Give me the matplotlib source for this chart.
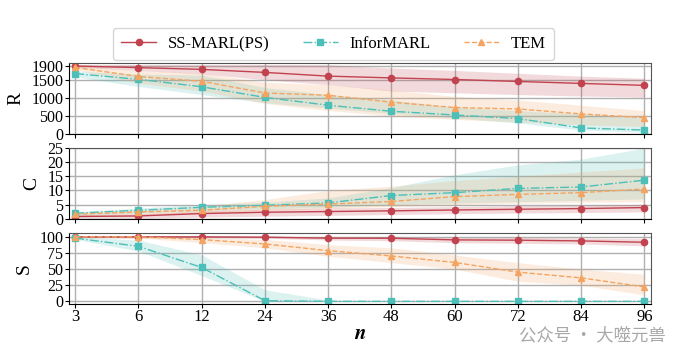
import numpy as np
import matplotlib.pyplot as plt

plt.rcParams['font.family'] = ['Liberation Serif', 'DejaVu Serif']
plt.rcParams['mathtext.fontset'] = 'stix'

# agent counts (categorical x axis)
n_agents = [3, 6, 12, 24, 36, 48, 60, 72, 84, 96]
methods = ["SS-MARL(PS)", "InforMARL", "TEM"]

# R: reward
R_ss = [1905, 1860, 1810, 1725, 1620, 1570, 1525, 1470, 1415, 1360]
R_ss_lo = [1870, 1780, 1680, 1520, 1380, 1200, 1150, 1100, 1060, 1030]
R_ss_hi = [1940, 1950, 1950, 1950, 1940, 1850, 1780, 1700, 1620, 1560]
R_inf = [1690, 1530, 1320, 1020, 800, 630, 525, 425, 160, 100]
R_inf_lo = [1600, 1330, 1100, 870, 720, 570, 440, 300, 100, 40]
R_inf_hi = [1760, 1680, 1650, 1300, 1100, 950, 750, 650, 560, 450]
R_tem = [1865, 1610, 1475, 1145, 1080, 885, 735, 695, 555, 450]
R_tem_lo = [1800, 1420, 1200, 850, 650, 500, 400, 330, 250, 200]
R_tem_hi = [1920, 1780, 1700, 1450, 1380, 1230, 1050, 950, 800, 650]

# C: collisions
C_ss = [0.8, 1.0, 1.85, 2.3, 2.55, 2.8, 3.1, 3.35, 3.6, 3.95]
C_ss_lo = [0.2, 0.2, 0.6, 0.9, 1.2, 1.5, 1.8, 2.0, 2.2, 2.4]
C_ss_hi = [1.4, 1.8, 2.8, 3.4, 3.8, 4.0, 4.3, 4.6, 4.8, 5.1]
C_inf = [1.95, 3.0, 4.05, 4.75, 5.6, 8.2, 9.2, 10.7, 11.2, 13.6]
C_inf_lo = [1.2, 2.0, 2.8, 3.5, 4.0, 5.0, 5.5, 6.0, 6.5, 7.0]
C_inf_hi = [2.5, 3.8, 5.0, 5.8, 7.4, 11.0, 15.5, 19.0, 21.0, 24.9]
C_tem = [1.6, 2.4, 3.0, 4.4, 5.2, 6.1, 7.8, 8.6, 9.2, 10.5]
C_tem_lo = [1.0, 1.6, 2.0, 3.0, 3.6, 4.3, 5.0, 5.5, 5.8, 6.0]
C_tem_hi = [2.2, 3.2, 4.5, 6.8, 10.0, 11.5, 13.5, 15.0, 16.5, 17.9]

# S: success rate
S_ss = [100, 100, 100, 99.5, 98, 97.8, 95.3, 94.8, 93.7, 91.6]
S_ss_lo = [99, 99, 99, 98, 95, 94, 91, 90, 89, 86]
S_ss_hi = [101, 101, 101, 101, 100, 100, 99, 99, 98, 97]
S_inf = [98, 85.3, 52.5, 1, 0, 0, 0, 0, 0, 0]
S_inf_lo = [96, 78, 40, 0, 0, 0, 0, 0, 0, 0]
S_inf_hi = [100, 95, 72, 18, 2, 0.5, 0.5, 0.5, 0.5, 0.5]
S_tem = [100, 100, 95.8, 89, 78.6, 70.3, 60.3, 45.3, 36.4, 22.3]
S_tem_lo = [99, 98, 91, 83, 70, 60, 50, 31, 25, 10]
S_tem_hi = [101, 101, 99, 96, 88, 83, 72, 60, 50, 42]

colors = ["#c1434f", "#4bbfb8", "#f4a460"]
styles = [("-", "o"), ("-.", "s"), ("--", "^")]

panels = [
    ("R", [(R_ss, R_ss_lo, R_ss_hi), (R_inf, R_inf_lo, R_inf_hi), (R_tem, R_tem_lo, R_tem_hi)],
     (0, 2000), [0, 500, 1000, 1500, 1900]),
    ("C", [(C_ss, C_ss_lo, C_ss_hi), (C_inf, C_inf_lo, C_inf_hi), (C_tem, C_tem_lo, C_tem_hi)],
     (0, 25), [0, 5, 10, 15, 20, 25]),
    ("S", [(S_ss, S_ss_lo, S_ss_hi), (S_inf, S_inf_lo, S_inf_hi), (S_tem, S_tem_lo, S_tem_hi)],
     (-4, 106), [0, 25, 50, 75, 100]),
]

fig, axes = plt.subplots(3, 1, figsize=(6.96, 3.58), dpi=100, sharex=True)
fig.subplots_adjust(left=0.099, right=0.935, top=0.825, bottom=0.151, hspace=0.2)

x = np.arange(len(n_agents))
for ax, (label, series, ylim, yticks) in zip(axes, panels):
    for (vals, lo, hi), name, c, (ls, mk) in zip(series, methods, colors, styles):
        ax.fill_between(x, lo, hi, color=c, alpha=0.2, linewidth=0)
        ax.plot(x, vals, linestyle=ls, marker=mk, color=c, markersize=4.5,
                linewidth=1.0, label=name)
    ax.set_ylim(*ylim)
    ax.set_yticks(yticks)
    ax.set_xlim(-0.1, len(x) - 0.9)
    ax.set_ylabel(label, fontsize=14, labelpad=5)
    ax.grid(True, color="#b0b0b0", linewidth=1.0)
    ax.set_axisbelow(True)
    ax.tick_params(labelsize=11.5, length=3, pad=1)
    for side in ("top", "right"):
        ax.spines[side].set_color("#555555")

axes[-1].set_xticks(x)
axes[-1].set_xticklabels([str(v) for v in n_agents], fontsize=12)
axes[-1].set_xlabel(r"$\boldsymbol{n}$", fontsize=15, labelpad=0)

handles, labels = axes[0].get_legend_handles_labels()
fig.legend(handles, labels, loc="center", ncol=3, bbox_to_anchor=(0.479, 0.877),
           fontsize=12, frameon=True, edgecolor="#cccccc", columnspacing=2.0,
           handlelength=2.1, handletextpad=0.7, borderpad=0.5)

# watermark
fig.text(0.745, 0.062, "公众号 · 大噬元兽", fontsize=12.5, color="#a8a8a8",
         family=["Noto Sans CJK SC", "DejaVu Sans"], va="center")

fig.savefig("out.png", dpi=100)
